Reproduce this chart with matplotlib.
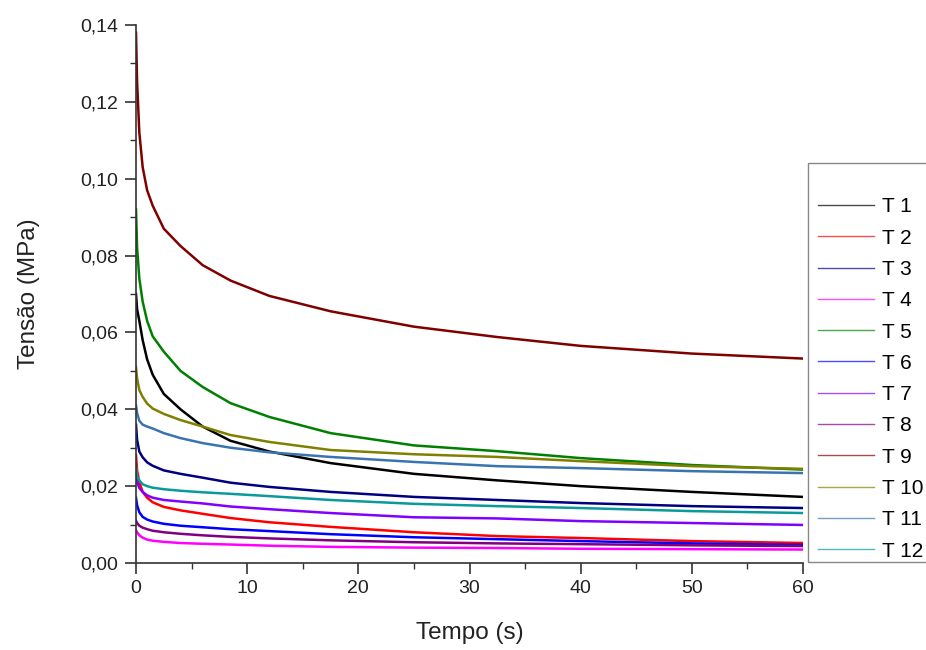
import matplotlib

matplotlib.use("Agg")
import matplotlib.pyplot as plt
from matplotlib.patches import Rectangle
from matplotlib.ticker import MultipleLocator, FuncFormatter

plt.rcParams["font.family"] = ["Liberation Sans", "DejaVu Sans"]

# --- data (stress relaxation, MPa vs s) ------------------------------------
tempo = [0, 0.1, 0.3, 0.6, 1, 1.5, 2.5, 4, 6, 8.5, 12, 17.5, 25, 32.5, 40, 50, 60]

t1 = [0.070, 0.066, 0.063, 0.058, 0.053, 0.049, 0.0440, 0.0400, 0.0355, 0.0318,
      0.0290, 0.0260, 0.0232, 0.0215, 0.0200, 0.0185, 0.0172]
t2 = [0.028, 0.024, 0.021, 0.0185, 0.0170, 0.0158, 0.0146, 0.0137, 0.0128, 0.0117,
      0.0106, 0.0094, 0.0080, 0.0070, 0.0065, 0.0057, 0.0052]
t3 = [0.036, 0.032, 0.029, 0.0275, 0.0262, 0.0253, 0.0241, 0.0232, 0.0222, 0.0209,
      0.0198, 0.0185, 0.0172, 0.0164, 0.0156, 0.0148, 0.0143]
t4 = [0.0085, 0.0080, 0.0072, 0.0066, 0.0061, 0.0058, 0.0055, 0.0052, 0.0050, 0.0048,
      0.0045, 0.0042, 0.0040, 0.0039, 0.0037, 0.0036, 0.0035]
t5 = [0.092, 0.082, 0.074, 0.068, 0.063, 0.059, 0.055, 0.050, 0.0458, 0.0416,
      0.0380, 0.0338, 0.0306, 0.0291, 0.0273, 0.0255, 0.0243]
t6 = [0.017, 0.015, 0.0132, 0.0120, 0.0113, 0.0108, 0.0102, 0.0097, 0.0093, 0.0088,
      0.0083, 0.0075, 0.0067, 0.0062, 0.0057, 0.0051, 0.0047]
t7 = [0.023, 0.021, 0.0195, 0.0185, 0.0176, 0.0170, 0.0164, 0.0160, 0.0155, 0.0147,
      0.0140, 0.0130, 0.0119, 0.0116, 0.0109, 0.0104, 0.0099]
t8 = [0.011, 0.0104, 0.0097, 0.0092, 0.0088, 0.0084, 0.0080, 0.0076, 0.0072, 0.0068,
      0.0064, 0.0059, 0.0054, 0.0051, 0.0049, 0.0046, 0.0044]
t9 = [0.138, 0.125, 0.112, 0.103, 0.097, 0.093, 0.087, 0.0825, 0.0775, 0.0735,
      0.0695, 0.0655, 0.0615, 0.0588, 0.0565, 0.0545, 0.0532]
t10 = [0.051, 0.048, 0.045, 0.0432, 0.0415, 0.0402, 0.0388, 0.0372, 0.0355, 0.0333,
       0.0315, 0.0294, 0.0283, 0.0276, 0.0265, 0.0252, 0.0245]
t11 = [0.041, 0.039, 0.037, 0.0360, 0.0355, 0.0350, 0.0338, 0.0325, 0.0312, 0.0300,
       0.0288, 0.0276, 0.0263, 0.0252, 0.0247, 0.0239, 0.0234]
t12 = [0.025, 0.0225, 0.0215, 0.0205, 0.0200, 0.0196, 0.0192, 0.0188, 0.0184, 0.0180,
       0.0174, 0.0164, 0.0154, 0.0148, 0.0143, 0.0135, 0.0130]

nomes = ["T 1", "T 2", "T 3", "T 4", "T 5", "T 6", "T 7", "T 8", "T 9", "T 10",
         "T 11", "T 12"]
series = [t1, t2, t3, t4, t5, t6, t7, t8, t9, t10, t11, t12]

# Origin-like default colour sequence
cores = ["#000000", "#FF0000", "#000080", "#FF00FF", "#008000", "#0000FF",
         "#8000FF", "#800080", "#800000", "#808000", "#3A74B0", "#0A9A9A"]

fig = plt.figure(figsize=(9.26, 6.5), dpi=100)
ax = fig.add_axes([136 / 926, 1 - 563 / 650, (803 - 136) / 926, (563 - 25) / 650])

handles = []
for nome, ys, c in zip(nomes, series, cores):
    ax.plot(tempo, ys, color=c, lw=1.8, solid_joinstyle="round")
    h, = plt.plot([], [], color=c, lw=1.0, alpha=0.7, label=nome)
    handles.append(h)

ax.set_xlim(0, 60)
ax.set_ylim(0, 0.14)
ax.xaxis.set_major_locator(MultipleLocator(10))
ax.xaxis.set_minor_locator(MultipleLocator(5))
ax.yaxis.set_major_locator(MultipleLocator(0.02))
ax.yaxis.set_minor_locator(MultipleLocator(0.01))
ax.yaxis.set_major_formatter(FuncFormatter(lambda v, p: f"{v:.2f}".replace(".", ",")))

for s in ("top", "right"):
    ax.spines[s].set_visible(False)
for s in ("left", "bottom"):
    ax.spines[s].set_linewidth(1.2)
    ax.spines[s].set_color("#333333")

ax.tick_params(which="major", direction="out", length=8, width=1.2,
               labelsize=14, colors="#333333", labelcolor="#222222")
ax.tick_params(which="minor", direction="out", length=4, width=1.0,
               colors="#333333")
ax.tick_params(axis="x", pad=4)
ax.tick_params(axis="y", pad=5)

ax.set_xlabel("Tempo (s)", fontsize=17.5, labelpad=18, color="#222222")
ax.set_ylabel("Tensão (MPa)", fontsize=17.5, labelpad=29, color="#222222")

# legend box (clipped by the right edge of the figure, as in the reference)
fig.patches.append(Rectangle((808 / 926, 1 - 562 / 650), 140 / 926, (562 - 163) / 650,
                             transform=fig.transFigure, fill=False,
                             edgecolor="#888888", lw=1.0))
fig.legend(handles=handles, loc="upper left",
           bbox_to_anchor=(810 / 926, 1 - 189 / 650), frameon=False,
           fontsize=15, handlelength=2.65, handletextpad=0.43, labelspacing=0.59,
           borderaxespad=0, borderpad=0.4)

fig.savefig("out.png", dpi=100, facecolor="white")
